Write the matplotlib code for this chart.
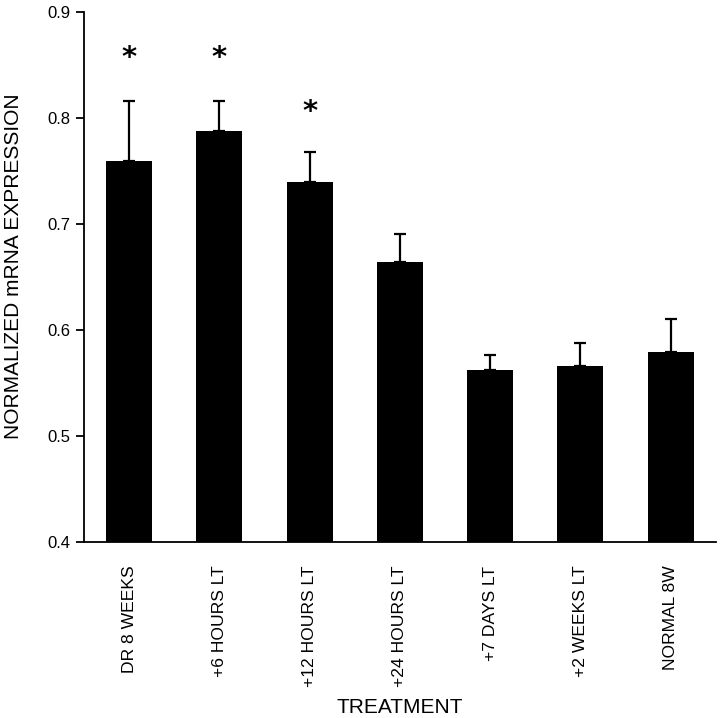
import numpy as np
import matplotlib.pyplot as plt

plt.rcParams['font.family'] = ['Liberation Sans', 'DejaVu Sans']

# datos
tratamientos = ['DR 8 WEEKS', '+6 HOURS LT', '+12 HOURS LT', '+24 HOURS LT',
                '+7 DAYS LT', '+2 WEEKS LT', 'NORMAL 8W']
medias = [0.759, 0.788, 0.740, 0.664, 0.562, 0.566, 0.579]
err_sup = [0.816, 0.816, 0.768, 0.691, 0.576, 0.588, 0.610]
estrellas = [0.857, 0.857, 0.806]  # primeras tres barras

errores = np.array(err_sup) - np.array(medias)
xx = np.arange(len(tratamientos))

fig = plt.figure(figsize=(7.2, 7.18), dpi=100)
ax = fig.add_axes([0.1167, 0.2451, 0.8773, 0.7382])

ax.bar(xx, medias, width=0.51, color='black', bottom=0)
ax.errorbar(xx, medias, yerr=[np.zeros(len(xx)), errores], fmt='none',
            ecolor='black', elinewidth=1.6, capsize=4.3, capthick=1.6)

for i, ys in enumerate(estrellas):
    ax.text(xx[i], ys, '*', ha='center', va='center', fontsize=21,
            fontweight='bold', family='DejaVu Sans')

ax.set_xlim(-0.5, 6.5)
ax.set_ylim(0.4, 0.9)
ax.set_yticks([0.4, 0.5, 0.6, 0.7, 0.8, 0.9])
ax.set_yticklabels(['0.4', '0.5', '0.6', '0.7', '0.8', '0.9'])
ax.set_xticks(xx)
ax.set_xticklabels(tratamientos, rotation=90, fontsize=12.6)
ax.tick_params(axis='x', length=0, pad=17)
ax.tick_params(axis='y', length=6, width=1.3, labelsize=12, pad=4)

ax.spines['top'].set_visible(False)
ax.spines['right'].set_visible(False)
ax.spines['left'].set_linewidth(1.3)
ax.spines['bottom'].set_linewidth(1.3)

ax.set_ylabel('NORMALIZED mRNA EXPRESSION', fontsize=15)
ax.yaxis.set_label_coords(-0.096, 0.521)
ax.set_xlabel('TREATMENT', fontsize=15)
ax.xaxis.set_label_coords(0.5, -0.294)

fig.savefig('out.png', dpi=100)
